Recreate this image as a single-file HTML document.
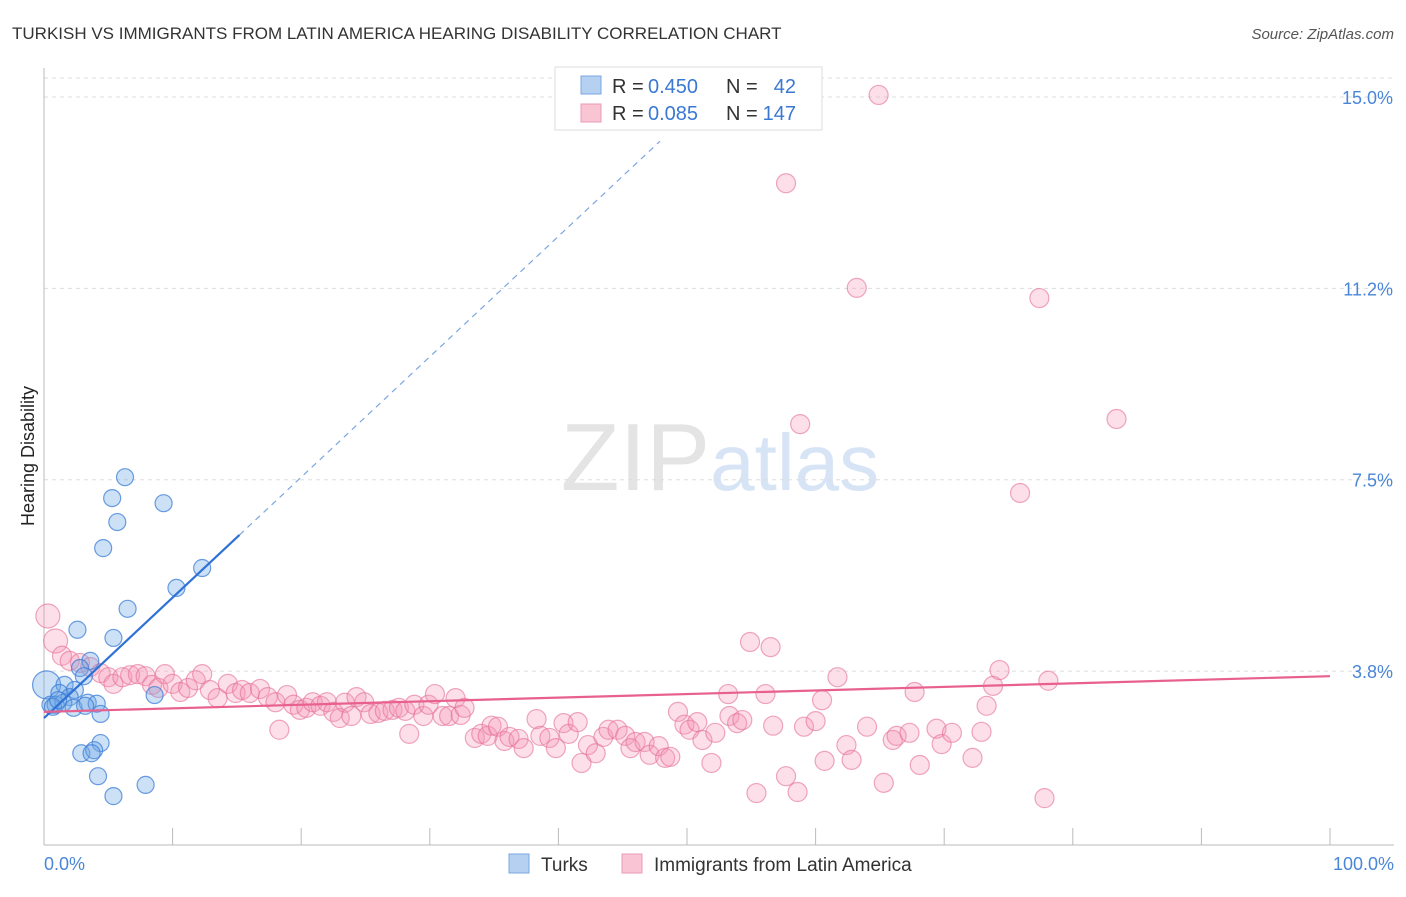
<!DOCTYPE html>
<html><head><meta charset="utf-8"><style>
body{margin:0;background:#fff;font-family:"Liberation Sans",sans-serif;}
svg text{font-family:"Liberation Sans",sans-serif;}
</style></head><body>
<svg id="chart" width="1406" height="892" viewBox="0 0 1406 892" xmlns="http://www.w3.org/2000/svg">
<text x="12" y="39" font-size="17" fill="#333">TURKISH VS IMMIGRANTS FROM LATIN AMERICA HEARING DISABILITY CORRELATION CHART</text>
<text x="1394" y="39" font-size="15" fill="#555" text-anchor="end" font-style="italic">Source: ZipAtlas.com</text>
<text x="720" y="490" font-size="96" text-anchor="middle" fill="#e4e4e4" font-family="Liberation Serif">ZIP<tspan fill="#d6e4f5" font-family="Liberation Sans" font-size="80">atlas</tspan></text>
<g id="grid"></g>
<g id="axes"></g>
<g id="pink"></g>
<g id="blue"></g>
<g id="trends"></g>
<text transform="translate(34,456) rotate(-90)" font-size="18" fill="#222" text-anchor="middle">Hearing Disability</text>
<text x="44" y="870" font-size="18" fill="#4a86d8">0.0%</text>
<text x="1394" y="870" font-size="18" fill="#4a86d8" text-anchor="end">100.0%</text>
<g>
<rect x="555" y="67" width="267" height="63" fill="#fff" stroke="#ddd"/>
<rect x="581" y="76" width="20" height="18" fill="#b6d0f2" stroke="#7ba7e0"/>
<rect x="581" y="104" width="20" height="18" fill="#f9c5d5" stroke="#ec9ab4"/>
<text x="612" y="93" font-size="20" fill="#333">R =</text>
<text x="648" y="93" font-size="20" fill="#3a78d4">0.450</text>
<text x="726" y="93" font-size="20" fill="#333">N =</text>
<text x="796" y="93" font-size="20" fill="#3a78d4" text-anchor="end">42</text>
<text x="612" y="120" font-size="20" fill="#333">R =</text>
<text x="648" y="120" font-size="20" fill="#3a78d4">0.085</text>
<text x="726" y="120" font-size="20" fill="#333">N =</text>
<text x="796" y="120" font-size="20" fill="#3a78d4" text-anchor="end">147</text>
</g>
<g>
<rect x="509" y="854" width="20" height="19" fill="#b6d0f2" stroke="#7ba7e0"/>
<text x="541" y="871" font-size="19" fill="#333">Turks</text>
<rect x="622" y="854" width="20" height="19" fill="#f9c5d5" stroke="#ec9ab4"/>
<text x="654" y="871" font-size="19" fill="#333">Immigrants from Latin America</text>
</g>
</svg>
<script>
const yTicks=[3.75,7.5,11.25,15.0];
const yTickLabels=["3.8%","7.5%","11.2%","15.0%"];
const turksX=[6.3,5.3,9.3,5.7,4.6,12.3,10.3,6.5,2.6,5.4,3.6,2.8,3.1,8.6,0.2,1.6,2.4,1.2,2.0,0.5,0.9,1.5,2.3,3.4,4.1,4.4,3.2,2.9,4.4,3.9,3.7,4.2,7.9,5.4,0.7,1.1];
const turksY=[7.55,7.14,7.04,6.67,6.16,5.77,5.38,4.97,4.56,4.40,3.95,3.81,3.65,3.28,3.48,3.48,3.38,3.32,3.24,3.09,3.09,3.13,3.03,3.13,3.11,2.91,3.07,2.14,2.34,2.20,2.14,1.69,1.52,1.30,3.05,3.18];
const latX=[0.3,0.9,1.4,2.0,2.8,3.6,4.4,5.0,5.4,6.1,6.7,7.3,7.9,8.4,8.9,9.4,10.0,10.6,11.2,11.8,12.3,12.9,13.5,14.3,14.9,15.4,16.0,16.8,17.4,18.0,18.3,18.9,19.4,19.9,20.4,20.9,21.5,22.0,22.5,23.0,23.4,23.9,24.3,24.9,25.4,26.0,26.5,27.1,27.6,28.1,28.4,28.8,29.5,29.9,30.4,31.0,31.5,32.0,32.4,32.7,33.5,34.0,34.5,34.8,35.3,35.8,36.2,36.9,37.3,38.3,38.6,39.3,39.8,40.4,40.8,41.5,41.8,42.3,42.9,43.5,43.9,44.6,45.2,45.6,46.0,46.7,47.1,47.8,48.3,48.7,49.3,49.8,50.2,50.8,51.2,51.9,52.2,53.2,53.3,53.9,54.3,54.9,55.4,56.1,56.5,56.7,57.7,58.6,59.1,60.0,60.5,60.7,61.7,62.4,62.8,64.0,65.3,66.0,66.3,67.3,67.7,68.1,69.4,69.8,70.6,72.2,72.9,73.3,73.8,74.3,77.8,78.1,64.9,57.7,63.2,77.4,58.8,83.4,75.9];
const latY=[4.83,4.34,4.05,3.95,3.91,3.83,3.71,3.63,3.50,3.63,3.67,3.69,3.65,3.48,3.42,3.69,3.50,3.34,3.42,3.57,3.69,3.38,3.22,3.50,3.32,3.38,3.32,3.40,3.24,3.14,2.60,3.28,3.09,2.99,3.03,3.14,3.07,3.14,2.95,2.83,3.13,2.87,3.24,3.14,2.91,2.93,2.97,2.99,3.03,2.97,2.52,3.09,2.87,3.09,3.30,2.87,2.87,3.22,2.89,3.03,2.44,2.52,2.48,2.68,2.66,2.38,2.46,2.42,2.24,2.81,2.48,2.44,2.24,2.73,2.52,2.75,1.95,2.30,2.14,2.46,2.60,2.60,2.48,2.24,2.36,2.36,2.11,2.28,2.05,2.07,2.95,2.70,2.60,2.75,2.40,1.95,2.54,3.30,2.87,2.73,2.79,4.32,1.36,3.30,4.22,2.68,1.69,1.38,2.66,2.77,3.18,1.99,3.63,2.30,2.01,2.66,1.56,2.40,2.48,2.54,3.34,1.91,2.62,2.32,2.54,2.05,2.56,3.07,3.46,3.77,1.26,3.56,15.04,13.31,11.26,11.06,8.59,8.69,7.24];
const turksTrend=[2.83,0.236];
const latTrend=[2.95,0.007];
const NS="http://www.w3.org/2000/svg";
const X=v=>44+v*12.86;
const Y=v=>97+(15-v)*51.03;
function mk(tag,attrs,parent){const e=document.createElementNS(NS,tag);for(const k in attrs)e.setAttribute(k,attrs[k]);parent.appendChild(e);return e;}
const grid=document.getElementById('grid');
mk('line',{x1:44,x2:1394,y1:78,y2:78,stroke:'#ddd','stroke-dasharray':'4,4'},grid);
yTicks.forEach((t,i)=>{
 const l=mk('line',{x1:44,x2:1394,y1:Y(t),y2:Y(t),stroke:'#ddd','stroke-dasharray':'4,4'},grid);
 
 
 const tx=mk('text',{x:1393,y:Y(t)+7,'font-size':18,fill:'#4a86d8','text-anchor':'end'},grid);
 tx.textContent=yTickLabels[i];
 
 
});
const axes=document.getElementById('axes');
mk('line',{x1:44,x2:44,y1:68,y2:845,stroke:'#bbb'},axes);
mk('line',{x1:44,x2:1394,y1:845,y2:845,stroke:'#bbb'},axes);
for(let i=0;i<=10;i++){const t=mk('line',{x1:X(i*10),x2:X(i*10),y1:828,y2:845,stroke:'#bbb'},axes);
 
 }
const pink=document.getElementById('pink');
latX.forEach((x,i)=>{const r=(i<2)?12:9.5;
 const c=mk('circle',{cx:X(x),cy:Y(latY[i]),r:r,fill:'rgba(244,150,180,0.3)',stroke:'rgba(228,110,150,0.6)','stroke-width':1.2},pink);
 
 });
const blue=document.getElementById('blue');
turksX.forEach((x,i)=>{const r=(i==14)?14:8.5;
 const c=mk('circle',{cx:X(x),cy:Y(turksY[i]),r:r,fill:'rgba(110,165,230,0.35)',stroke:'rgba(60,125,215,0.75)','stroke-width':1.2},blue);
 
 });
const tr=document.getElementById('trends');
let l=mk('line',{x1:X(0),y1:Y(turksTrend[0]),x2:X(15.2),y2:Y(turksTrend[0]+turksTrend[1]*15.2),stroke:'#2f72d6','stroke-width':2.2},tr);


l=mk('line',{x1:X(15.2),y1:Y(turksTrend[0]+turksTrend[1]*15.2),x2:X(47.9),y2:Y(turksTrend[0]+turksTrend[1]*47.9),stroke:'#7aa6e3','stroke-width':1.2,'stroke-dasharray':'6,5'},tr);


l=mk('line',{x1:X(0),y1:Y(latTrend[0]),x2:X(100),y2:Y(latTrend[0]+latTrend[1]*100),stroke:'#e8608e','stroke-width':2.2},tr);


</script>
</body></html>
